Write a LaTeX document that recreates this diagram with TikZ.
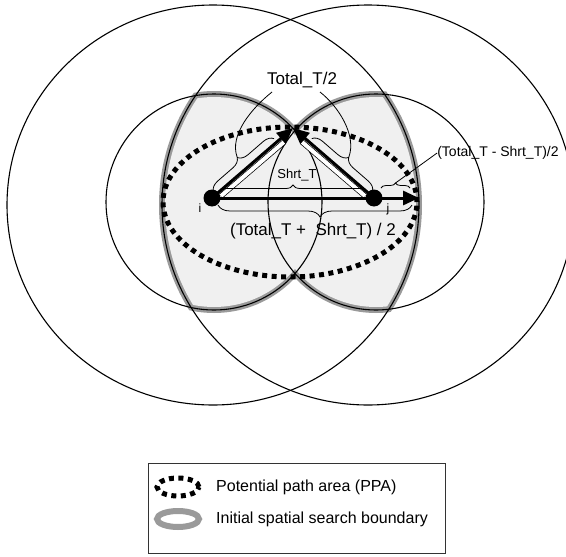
\documentclass[tikz,border=0pt]{standalone}
\usepackage{fontspec}
\setmainfont{Liberation Sans}
\usetikzlibrary{arrows.meta,decorations.pathreplacing}
\definecolor{bnd}{HTML}{9A9A9A}
\definecolor{lobe}{HTML}{F0F0F0}
\begin{document}
\begin{tikzpicture}[x=1pt,y=-1pt,
  thincirc/.style={draw=black,line width=1.1pt},
  ppa/.style={draw=black,line width=5pt,dash pattern=on 5pt off 4.5pt},
  thickarrow/.style={line width=3pt,-{Triangle[length=16pt,width=14pt]}},
  band/.style={draw=black,line width=0.7pt,double=white,double distance=4pt},
  bracestyle/.style={draw=black,line width=0.8pt,decorate,decoration={brace,amplitude=#1}},
  dot/.style={circle,fill=black,minimum size=17pt,inner sep=0pt},
  lbl/.style={font=\fontsize{17}{20}\selectfont,inner sep=0pt},
  lbll/.style={font=\fontsize{16}{19}\selectfont,inner sep=0pt},
  lblm/.style={font=\fontsize{14}{17}\selectfont,inner sep=0pt},
  lbls/.style={font=\fontsize{13}{16}\selectfont,inner sep=0pt},
  lblt/.style={font=\fontsize{12}{14}\selectfont,inner sep=0pt},
  leader/.style={draw=black,line width=0.8pt},
]
\useasboundingbox (0,0) rectangle (566,557);
\fill[white] (0,0) rectangle (566,557);

\coordinate (cBL) at (213,205);
\coordinate (cBR) at (368,205);
\coordinate (cSL) at (214,202);
\coordinate (cSR) at (376,202);

% initial spatial search boundary (gray outlined lobes)
\begin{scope}
  \clip (cBR) ellipse [x radius=209pt,y radius=203pt];
  \fill[bnd] (cSL) circle (111pt);
\end{scope}
\begin{scope}
  \clip (cBL) ellipse [x radius=209pt,y radius=203pt];
  \fill[bnd] (cSR) circle (111pt);
\end{scope}
\begin{scope}
  \clip (cBR) ellipse [x radius=203pt,y radius=197pt];
  \fill[lobe] (cSL) circle (105pt);
\end{scope}
\begin{scope}
  \clip (cBL) ellipse [x radius=203pt,y radius=197pt];
  \fill[lobe] (cSR) circle (105pt);
\end{scope}

% circles
\draw[thincirc] (cBL) ellipse [x radius=206pt,y radius=200pt];
\draw[thincirc] (cBR) ellipse [x radius=206pt,y radius=200pt];
\draw[thincirc] (cSL) circle (108pt);
\draw[thincirc] (cSR) circle (108pt);

% potential path area
\draw[ppa] (290,202) ellipse [x radius=127pt,y radius=75pt];

% nodes
\node[dot] (i) at (212,198) {};
\node[dot] (j) at (374,198) {};
\coordinate (apex) at (293,128);
\coordinate (jend) at (419,198);

% hollow bands
\draw[band] (221,196) -- (284,142);
\draw[band] (365,196) -- (302,142);

% arrows
\draw[line width=3pt] (i.center) -- (j.center);
\draw[thickarrow] (i.center) -- (apex);
\draw[thickarrow] (j.center) -- (apex);
\draw[thickarrow] (j.center) -- (jend);

% braces
\draw[bracestyle=10pt] (213.4,191.4) -- (274.2,138.6);
\draw[bracestyle=10pt] (311.8,138.6) -- (372.6,191.4);
\draw[bracestyle=7pt] (218,192) -- (368,192);
\draw[bracestyle=12pt,decoration={aspect=0.474}] (412,205) -- (218,205);
\draw[bracestyle=5pt] (381,188) -- (410,188);
\coordinate (tipL) at (237.2,157.3);
\coordinate (tipR) at (348.8,157.3);
\coordinate (tipD) at (395.5,183);

% labels
\node[lbl] (lt) at (302,80) {Total\_T/2};
\node[lbls] (ls) at (297,175) {Shrt\_T};
\node[lbl] (lsum) at (313,231) {(Total\_T +\ \ Shrt\_T) / 2};
\node[lblm] (ldiff) at (498,153) {(Total\_T - Shrt\_T)/2};
\node[lblt] (li) at (200,208) {i};
\node[lblt] (lj) at (388,209) {j};

% leaders
\draw[leader] (tipL) .. controls (229,135) and (252,108) .. (272,92);
\draw[leader] (tipR) .. controls (357,135) and (338,106) .. (320,92);
\draw[leader] (ldiff.west) -- (tipD);

% legend
\node[draw=black!80,line width=0.8pt,minimum width=297pt,minimum height=90pt,inner sep=0pt] (legend) at (296.5,508) {};
\draw[draw=black,line width=5pt,dash pattern=on 5pt off 4.5pt] (178,487) ellipse [x radius=21pt,y radius=9pt];
\draw[draw=bnd,line width=6pt] (178,519) ellipse [x radius=21pt,y radius=8pt];
\node[lbll,anchor=west] (t1) at (216,487) {Potential path area (PPA)};
\node[lbll,anchor=west] (t2) at (216,519) {Initial spatial search boundary};
\end{tikzpicture}
\end{document}
